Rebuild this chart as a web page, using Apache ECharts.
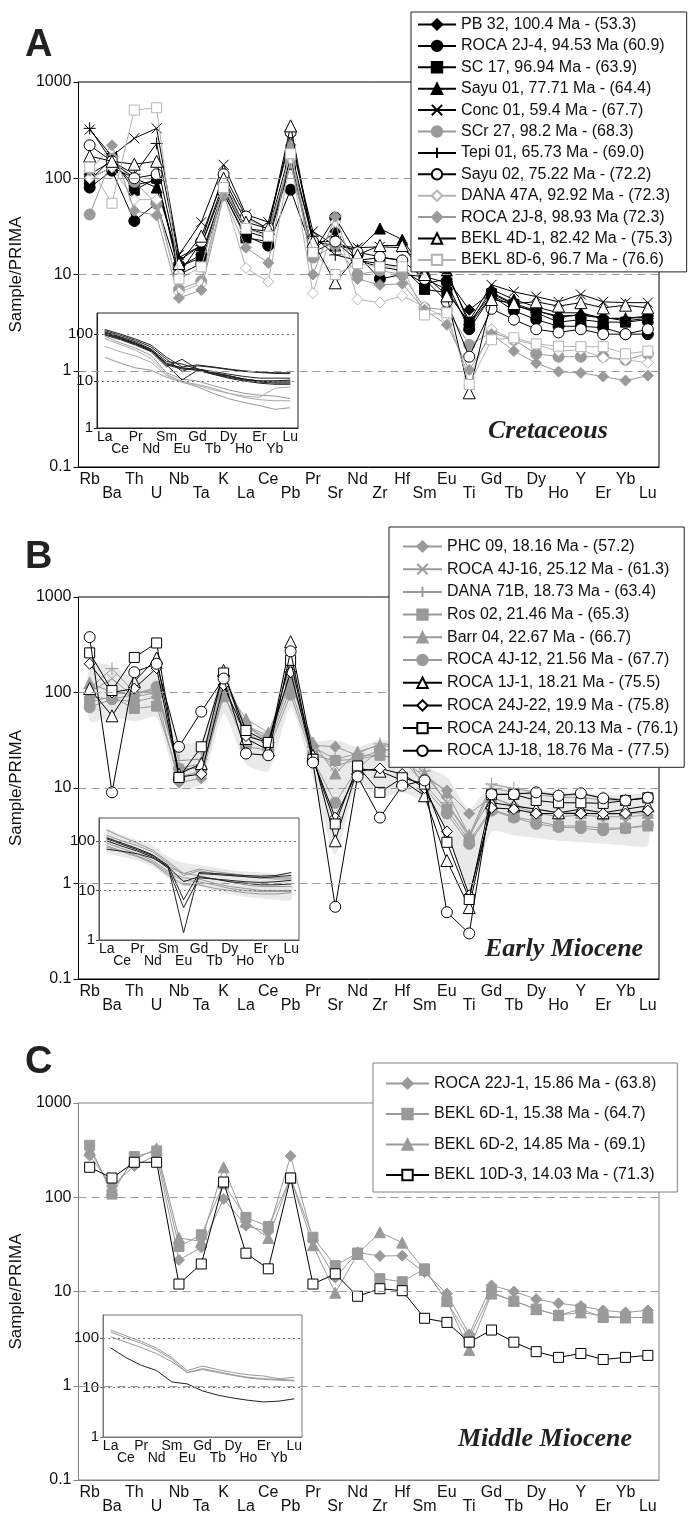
<!DOCTYPE html>
<html><head><meta charset="utf-8">
<script src="https://cdn.jsdelivr.net/npm/echarts@6/dist/echarts.min.js"></script>
<style>html,body{margin:0;padding:0;background:#fff}#c{width:690px;height:1515px}</style>
</head><body><div id="c"></div>
<script>
// ---------- categories ----------
const elements = ['Rb','Ba','Th','U','Nb','Ta','K','La','Ce','Pb','Pr','Sr','Nd','Zr','Hf','Sm','Eu','Ti','Gd','Tb','Dy','Ho','Y','Er','Yb','Lu'];
const ree = ['La','Ce','Pr','Nd','Sm','Eu','Gd','Tb','Dy','Ho','Er','Yb','Lu'];
const periodLabels = ['Cretaceous','Early Miocene','Middle Miocene'];
const panelLetters = ['A','B','C'];

// ---------- Panel A (Cretaceous) ----------
const namesA = ['PB 32, 100.4 Ma - (53.3)','ROCA 2J-4, 94.53 Ma (60.9)','SC 17, 96.94 Ma - (63.9)','Sayu 01, 77.71 Ma - (64.4)','Conc 01, 59.4 Ma - (67.7)','SCr 27, 98.2 Ma - (68.3)','Tepi 01, 65.73 Ma - (69.0)','Sayu 02, 75.22 Ma - (72.2)','DANA 47A, 92.92 Ma - (72.3)','ROCA 2J-8, 98.93 Ma (72.3)','BEKL 4D-1, 82.42 Ma - (75.3)','BEKL 8D-6, 96.7 Ma - (76.6)'];
const pb32    = [110,150,85,95,12,16,75,28,24,150,18,28,14,12,11,8,9,4.3,6.5,5,4.2,3.7,3.8,3.6,3.3,3.5];
const roca2j4 = [80,120,36,55,10,13,70,25,20,76,17,39,16,9,10,9.5,8.2,2.7,6,4.2,3.4,2.9,2.9,2.8,2.4,2.4];
const sc17    = [95,160,75,100,12,15,70,24,22,140,17,22,14,13,12,7,6.5,3.2,6.3,4.9,4,3.2,3.4,3.2,3.2,3.4];
const sayu01  = [100,130,100,80,14,20,80,30,28,200,22,20,18,30,23,11,11,3,7,5.5,4.6,4,4,3.5,3.5,3.6];
const conc01  = [320,170,260,330,16,35,138,42,35,250,28,20,19,19.4,19,12,10,3.3,7.8,6.6,5.9,5.2,6.2,5.2,5.1,5.1];
const scr27   = [42,160,92,54,7,8.5,85,38,30,145,15,20,10,11,10,4.5,4.3,1.86,2.5,2.1,1.5,1.4,1.4,1.4,1.3,1.5];
const tepi01  = [330,150,110,230,15,20,90,30,26,160,25,16,14,15,14,9,7,3,6,4.7,4.2,3.6,3.8,3.5,3.5,3.7];
const sayu02  = [220,150,100,110,10,22,110,40,30,300,22,22,17,15.3,14,9,5.2,1.4,4.4,3.4,2.7,2.5,2.7,2.4,2.4,2.7];
const dana47a = [100,130,60,60,6.5,8,70,11.7,8.4,160,6.4,35,5.5,5.1,6,4.6,3.5,0.85,2.7,2.1,1.86,1.6,1.65,1.36,1.3,1.21];
const roca2j8 = [120,220,46,41,5.7,6.9,65,19,13.2,220,10,40,9,7.8,8,4.3,3,1.02,2.4,1.6,1.2,0.98,0.95,0.87,0.79,0.89];
const bekl4d1 = [170,150,140,150,13,25,100,35,30,350,22,8.2,16,20,20,10,6,0.59,5.5,5,5.2,4.7,5.1,4.5,4.8,4.5];
const bekl8d6 = [130,55,510,540,9,12,80,30,25,180,17,10,13,12,12,3.8,4,0.72,2.1,2.2,1.9,1.8,1.78,1.78,1.5,1.6];
// REE inset A
const pb32R    = [95,76,58,42,20,29,18,15,13,11,10,10,10];
const roca2j4R = [100,80,62,45,24,19,17,14,12,10.5,9.5,9,9];
const sc17R    = [105,82,63,46,23,19,18,15,13,11,10,10,10.5];
const sayu01R  = [110,88,68,48,26,23,18,16,14,12.5,11.5,11.5,11.5];
const conc01R  = [125,100,78,58,32,20,22,20,18,16.5,15.5,15,15];
const scr27R   = [90,65,50,35,15,11,10,8,6.5,5.5,5,4.8,4.2];
const tepi01R  = [100,80,60,44,22,18,17,14.5,12.5,11,10,9.5,9.5];
const sayu02R  = [110,85,64,46,22,10.5,17,14,11.5,10,9,8.5,8.5];
const dana47aR = [55,42,34,25,13,10,8,6.5,5.5,4.8,4.5,7,7.5];
const roca2j8R = [32,24,19,17,12,9.5,7.5,5.5,4.2,3.5,3,2.5,2.7];
const bekl4d1R = [118,94,73,53,29,16,21,19.5,17.5,16,15.2,14.5,14.3];
const bekl8d6R = [80,60,45,30,14,9.5,8.5,7,5.5,4.5,4,3.8,3.8];

// ---------- Panel B (Early Miocene) ----------
const namesB = ['PHC 09, 18.16 Ma - (57.2)','ROCA 4J-16, 25.12 Ma - (61.3)','DANA 71B, 18.73 Ma - (63.4)','Ros 02, 21.46 Ma - (65.3)','Barr 04, 22.67 Ma - (66.7)','ROCA 4J-12, 21.56 Ma - (67.7)','ROCA 1J-1, 18.21 Ma - (75.5)','ROCA 24J-22, 19.9 Ma - (75.8)','ROCA 24J-24, 20.13 Ma - (76.1)','ROCA 1J-18, 18.76 Ma - (77.5)'];
const phc09     = [90,85,80,90,11.4,12.6,100,45,35,140,28,27,22,22,20,13,9.4,5.4,8,6.5,5.5,5,5.2,5,5,5.2];
const roca4j16  = [100,140,90,100,16,18,130,45,32,150,25,17,20,25,25,14,7,3,10,9,8.5,8,8,7.5,7.5,7.8];
const dana71b   = [110,178,100,105,19.4,20,150,45,30,130,27,20,23,29,28,15,7,3.2,11,9.9,9,8.5,8.5,8,7.5,8];
const ros02     = [80,90,68,72,13,15,90,38,28,110,22,19.4,20,22,20,11,6,2.8,6,5,4.5,4,4,3.8,3.8,4];
const barr04    = [127,100,95,110,15,17,120,53,38,140,30,14.2,24,28,26,14,9,3.2,8,6.5,6,5.5,5.5,5.3,5.4,5.5];
const roca4j12  = [70,85,95,115,16,16,98,27,25,95,20,7,16,25,25,10,5.4,2.6,5.8,4.9,4.2,3.9,3.8,3.6,3.8,4.1];
const roca1j1   = [110,57,130,230,14,18,170,33,25,340,22,2.8,16,15,12,8.3,1.74,0.56,7,6.5,6,5.5,6,5.5,6,6.5];
const roca24j22 = [200,100,110,180,13,14,120,35,30,163,20,4.9,15,16,14,10,3.5,0.75,6.2,6,5.4,5.4,5.4,5.4,5.4,5.8];
const roca24j24 = [260,105,233,330,12.9,27,160,40,30,217,20,4.2,17,9,12.8,11,2.7,0.68,8.5,8.6,7.4,7,7,6.9,7.4,7.9];
const roca1j18  = [380,9,163,200,27,63,140,23,22,270,18.5,0.57,13.2,4.9,10.6,12,0.5,0.3,8.6,8.6,9,8.3,8.8,7.8,7.4,7.9];
const bandUpperB = [200,190,140,160,30,32,160,48,40,260,32,32,27,32,28,17,13,6,11,10,9.5,9,9,8.5,8.5,8.5];
const bandLowerB = [50,55,50,55,10,11,60,18,15,70,13,2,11,8,9,7,3.5,0.8,3.5,3.2,3,2.8,2.7,2.6,2.5,2.5];
// REE inset B
const phc09R     = [90,70,55,40,24,18,17,14,12,11,10,10,10];
const roca4j16R  = [165,120,90,65,38,22,27,24,22,20,19,18,18];
const dana71bR   = [130,100,80,60,35,20,25,22,20,19,18,17,17];
const ros02R     = [80,62,50,37,22,16,15,13,11,10,9.5,9.5,9.5];
const barr04R    = [120,90,70,52,30,22,20,17,15,13,12,12,12];
const roca4j12R  = [75,60,48,35,20,13,13,11,10,9,8.5,8.5,9];
const roca1j1R   = [100,78,62,47,28,4.5,18,17,16,15,14.5,15,16];
const roca24j22R = [110,85,66,50,30,15,19,17,15,14,13,13,13.5];
const roca24j24R = [115,90,70,52,32,6.5,22,21,20,19,18,19,20];
const roca1j18R  = [68,62,55,45,30,1.4,23,22,21,20,19.5,20,23];
const bandUpperBR = [175,130,105,80,48,36,33,29,26,24,23,22,22];
const bandLowerBR = [60,48,40,30,18,12,12,10,8.5,7.5,7,6.5,6.5];

// ---------- Panel C (Middle Miocene) ----------
const namesC = ['ROCA 22J-1, 15.86 Ma - (63.8)','BEKL 6D-1, 15.38 Ma - (64.7)','BEKL 6D-2, 14.85 Ma - (69.1)','BEKL 10D-3, 14.03 Ma - (71.3)'];
const roca22j1 = [277,131,215,280,21.6,29.4,96,50,43,274,35,14,26,23.8,24,16,9.5,3.5,11.6,10,8.3,7.5,7,6.3,6,6.3];
const bekl6d1  = [356,108,270,310,30,40,139,61,49,160,37.6,18.8,25.6,13.7,12.7,17.4,7.8,3.2,9.8,7.9,6.5,5.6,6.5,5.3,5.3,5.3];
const bekl6d2  = [320,120,250,330,37,34,208,55,37,160,31,9.7,25,42.5,33,17,8,2.4,9.5,8,6.5,5.6,6,5.5,5.3,5.3];
const bekl10d3 = [208,160,235,235,12,19.6,145,25.5,17.4,160,12,15.4,8.9,10.7,10.2,5.2,4.7,2.9,3.9,2.9,2.3,2.0,2.2,1.9,2.0,2.1];
// REE inset C
const roca22j1R = [145,110,85,62,40,22,27,23,20,18,17,15,16];
const bekl6d1R  = [132,100,78,57,37,20,24,21,18,16,15,14.5,14];
const bekl6d2R  = [105,82,64,48,33,20,23,20,17.5,15.5,14.5,14,13.5];
const bekl10d3R = [63,40,28,22,12.9,11.8,8.5,7,6.1,5.5,5.1,5.3,5.9];

// ---------- styles ----------
const FONT = '"Liberation Sans", Arial, sans-serif';
const XP = 'path://M0,0L10,10M10,0L0,10';
const PP = 'path://M5,0L5,10M0,5L10,5';
const BK = '#000', GY = '#9a9a9a', LG = '#b4b4b4';
const ST = {
  bD:{symbol:'diamond',size:11,fill:BK,stroke:BK,line:BK},
  bC:{symbol:'circle',size:11,fill:BK,stroke:BK,line:BK},
  bS:{symbol:'rect',size:10,fill:BK,stroke:BK,line:BK},
  bT:{symbol:'triangle',size:11,fill:BK,stroke:BK,line:BK},
  bX:{symbol:XP,size:10,fill:'none',stroke:BK,line:BK},
  bP:{symbol:PP,size:12,fill:'none',stroke:BK,line:BK},
  oC:{symbol:'circle',size:11,fill:'#fff',stroke:BK,line:BK},
  oT:{symbol:'triangle',size:12,fill:'#fff',stroke:BK,line:BK},
  oS:{symbol:'rect',size:10,fill:'#fff',stroke:BK,line:BK},
  oD:{symbol:'diamond',size:11,fill:'#fff',stroke:BK,line:BK},
  gC:{symbol:'circle',size:11,fill:GY,stroke:GY,line:GY},
  gD:{symbol:'diamond',size:11,fill:GY,stroke:GY,line:GY},
  gS:{symbol:'rect',size:10,fill:GY,stroke:GY,line:GY},
  gT:{symbol:'triangle',size:11,fill:GY,stroke:GY,line:GY},
  gX:{symbol:XP,size:10,fill:'none',stroke:GY,line:GY},
  gP:{symbol:PP,size:13,fill:'none',stroke:GY,line:GY},
  lD:{symbol:'diamond',size:11,fill:'#fff',stroke:LG,line:LG},
  lS:{symbol:'rect',size:10,fill:'#fff',stroke:LG,line:LG}
};

const panelA = [
  [namesA[0],pb32,pb32R,'bD'],[namesA[1],roca2j4,roca2j4R,'bC'],[namesA[2],sc17,sc17R,'bS'],
  [namesA[3],sayu01,sayu01R,'bT'],[namesA[4],conc01,conc01R,'bX'],[namesA[5],scr27,scr27R,'gC'],
  [namesA[6],tepi01,tepi01R,'bP'],[namesA[7],sayu02,sayu02R,'oC'],[namesA[8],dana47a,dana47aR,'lD'],
  [namesA[9],roca2j8,roca2j8R,'gD'],[namesA[10],bekl4d1,bekl4d1R,'oT'],[namesA[11],bekl8d6,bekl8d6R,'lS']
];
const panelB = [
  [namesB[0],phc09,phc09R,'gD'],[namesB[1],roca4j16,roca4j16R,'gX'],[namesB[2],dana71b,dana71bR,'gP'],
  [namesB[3],ros02,ros02R,'gS'],[namesB[4],barr04,barr04R,'gT'],[namesB[5],roca4j12,roca4j12R,'gC'],
  [namesB[6],roca1j1,roca1j1R,'oT'],[namesB[7],roca24j22,roca24j22R,'oD'],[namesB[8],roca24j24,roca24j24R,'oS'],
  [namesB[9],roca1j18,roca1j18R,'oC']
];
const panelC = [
  [namesC[0],roca22j1,roca22j1R,'gD'],[namesC[1],bekl6d1,bekl6d1R,'gS'],
  [namesC[2],bekl6d2,bekl6d2R,'gT'],[namesC[3],bekl10d3,bekl10d3R,'oS']
];

// ---------- layout ----------
const mainGrids = [
  {left:65, top:82, width:594, height:385, frame:'#000'},
  {left:65, top:597, width:594, height:382, frame:'#000'},
  {left:65, top:1103, width:594, height:382, frame:'#808080'}
];
const insetGrids = [
  {left:97, top:313, width:201, height:115, frame:'#222', max:280},
  {left:99, top:818, width:200, height:122, frame:'#555', max:290},
  {left:103, top:1315, width:199, height:122, frame:'#777', max:290}
];
const plainNum = v => String(Math.round(v*1000)/1000);

const grid = [], xAxis = [], yAxis = [], series = [];
mainGrids.forEach((g, k) => {
  grid.push({left:g.left, top:g.top, width:g.width, height:g.height, show:true, borderColor:g.frame, borderWidth:1, backgroundColor:'transparent'});
  xAxis.push({gridIndex:k, type:'category', data:elements, boundaryGap:true,
    axisLine:{lineStyle:{color:g.frame, width:1}},
    axisTick:{alignWithLabel:true, length:5, lineStyle:{color:g.frame}},
    axisLabel:{interval:0, fontFamily:FONT, fontSize:16, lineHeight:14, color:'#111', margin:6,
      formatter:(v,i)=> i%2 ? '\n'+v : v},
    splitLine:{show:false}});
  yAxis.push({gridIndex:k, type:'log', logBase:10, min:0.1, max:1000,
    axisLine:{show:true, lineStyle:{color:g.frame, width:1}},
    axisTick:{show:true, length:5, lineStyle:{color:g.frame}},
    axisLabel:{fontFamily:FONT, fontSize:16, color:'#111', margin:7, formatter:plainNum},
    splitLine:{show:false}, minorTick:{show:false},
    name:'Sample/PRIMA', nameLocation:'middle', nameGap:40,
    nameTextStyle:{fontFamily:FONT, fontSize:17, color:'#111'}});
});
insetGrids.forEach((g, k) => {
  grid.push({left:g.left, top:g.top, width:g.width, height:g.height, show:true, borderColor:g.frame, borderWidth:1, backgroundColor:'transparent'});
  xAxis.push({gridIndex:3+k, type:'category', data:ree, boundaryGap:true,
    axisLine:{lineStyle:{color:g.frame, width:1}},
    axisTick:{alignWithLabel:true, length:3, lineStyle:{color:g.frame}},
    axisLabel:{interval:0, fontFamily:FONT, fontSize:14, lineHeight:12, color:'#111', margin:3,
      formatter:(v,i)=> i%2 ? '\n'+v : v},
    splitLine:{show:false}});
  yAxis.push({gridIndex:3+k, type:'log', logBase:10, min:1, max:g.max,
    axisLine:{show:true, lineStyle:{color:g.frame, width:1}},
    axisTick:{show:true, length:3, lineStyle:{color:g.frame}},
    axisLabel:{fontFamily:FONT, fontSize:15, color:'#111', margin:4, showMaxLabel:false, formatter:plainNum},
    splitLine:{show:false}, minorTick:{show:false}});
});

// reference lines
[0,1,2].forEach(k => {
  series.push({type:'line', xAxisIndex:k, yAxisIndex:k, data:[], silent:true, z:1,
    markLine:{silent:true, symbol:'none', animation:false, label:{show:false},
      lineStyle:{color:'#9a9a9a', type:[8,5], width:1},
      data:[{yAxis:1},{yAxis:10},{yAxis:100}]}});
  series.push({type:'line', xAxisIndex:3+k, yAxisIndex:3+k, data:[], silent:true, z:1,
    markLine:{silent:true, symbol:'none', animation:false, label:{show:false},
      lineStyle:{color:'#777', type:[2,3], width:1},
      data:[{yAxis:10},{yAxis:100}]}});
});

// shaded field (panel B)
function band(axisIdx, cats, up, lo){
  return {type:'custom', xAxisIndex:axisIdx, yAxisIndex:axisIdx, silent:true, z:1,
    data: cats.map((c,i)=>[i, up[i], lo[i]]),
    renderItem:(params, api)=>{
      if (params.dataIndex !== 0) return;
      const pts = [];
      for (let i=0;i<cats.length;i++) pts.push(api.coord([i, up[i]]));
      for (let i=cats.length-1;i>=0;i--) pts.push(api.coord([i, lo[i]]));
      return {type:'polygon', shape:{points:pts, smooth:0.2}, style:{fill:'#e9e9e9'}};
    }};
}
series.push(band(1, elements, bandUpperB, bandLowerB));
series.push(band(4, ree, bandUpperBR, bandLowerBR));

function mk(name, data, st, ax, z){
  return {name, type:'line', xAxisIndex:ax, yAxisIndex:ax, data,
    symbol:st.symbol, symbolSize:st.size, showAllSymbol:true,
    lineStyle:{color:st.line, width:1},
    itemStyle:{color:st.fill, borderColor:st.stroke, borderWidth:1},
    z, animation:false, emphasis:{disabled:true}};
}
function mkInset(name, data, st, ax){
  return {name, type:'line', xAxisIndex:ax, yAxisIndex:ax, data, symbol:'none',
    lineStyle:{color: st.line===BK ? '#222' : (st.line===LG ? '#aaa' : '#999'), width:1},
    z:2, animation:false, emphasis:{disabled:true}};
}
[panelA, panelB, panelC].forEach((panel, k) => {
  panel.forEach((s, j) => {
    series.push(mk(s[0], s[1], ST[s[3]], k, 3 + j*0.01));
    series.push(mkInset('ree-'+k+'-'+j, s[2], ST[s[3]], 3+k));
  });
});

const legBase = {orient:'vertical', selectedMode:false, backgroundColor:'#fff', borderWidth:1,
  textStyle:{fontFamily:FONT, fontSize:16, color:'#111', lineHeight:13}, itemHeight:13, z:10};
const legend = [
  Object.assign({}, legBase, {data:namesA, left:411, top:12, itemWidth:38, itemGap:5.4, padding:[4.5,14,4,6], borderColor:'#222'}),
  Object.assign({}, legBase, {data:namesB, left:389, top:527, itemWidth:39, itemGap:6.7, padding:[11.5,6,8.5,13], borderColor:'#222'}),
  Object.assign({}, legBase, {data:namesC, left:373, top:1063, itemWidth:43, itemGap:14.5, padding:[12.5,21,9,12], borderColor:'#808080'})
];

const graphic = [
  {type:'text', left:25, top:27, style:{text:panelLetters[0], font:'bold 38px '+FONT, fill:'#222'}},
  {type:'text', left:25, top:539, style:{text:panelLetters[1], font:'bold 38px '+FONT, fill:'#222'}},
  {type:'text', left:25, top:1044, style:{text:panelLetters[2], font:'bold 38px '+FONT, fill:'#222'}},
  {type:'text', left:488, top:418, style:{text:periodLabels[0], font:'italic bold 26px "Liberation Serif", serif', fill:'#222'}},
  {type:'text', left:485, top:936, style:{text:periodLabels[1], font:'italic bold 26px "Liberation Serif", serif', fill:'#222'}},
  {type:'text', left:458, top:1426, style:{text:periodLabels[2], font:'italic bold 26px "Liberation Serif", serif', fill:'#222'}}
];

const chart = echarts.init(document.getElementById('c'));
chart.setOption({animation:false, backgroundColor:'#fff', grid, xAxis, yAxis, series, legend, graphic});
</script></body></html>
